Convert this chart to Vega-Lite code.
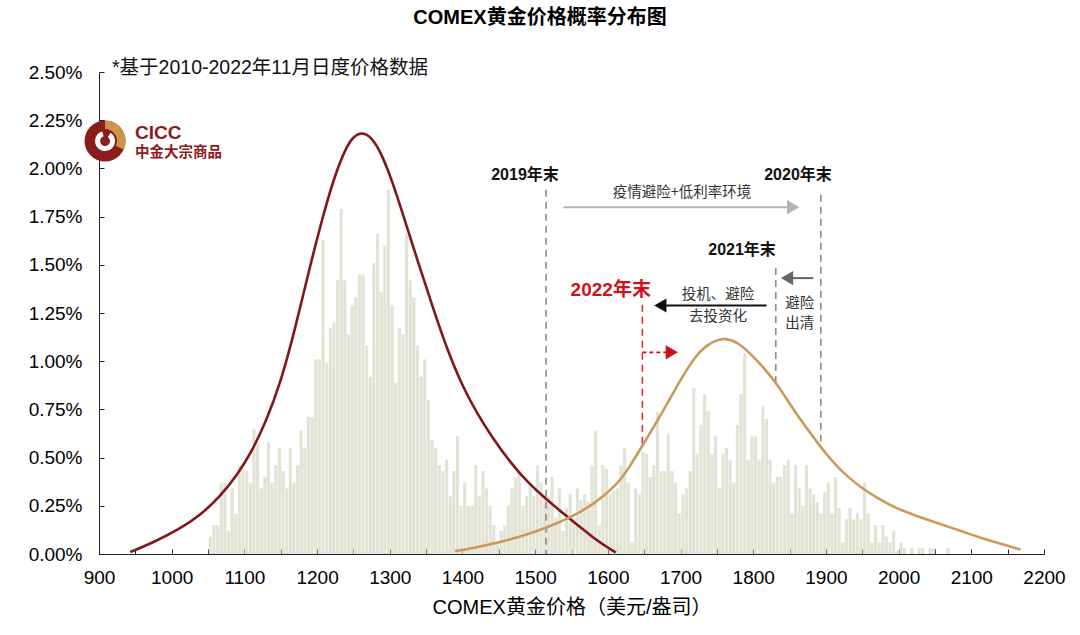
{
  "$schema": "https://vega.github.io/schema/vega-lite/v6.json",
  "width": 945,
  "height": 482,
  "autosize": "none",
  "padding": {"left": 99, "top": 72, "right": 36, "bottom": 81},
  "background": "white",
  "config": {
    "view": {"stroke": null},
    "font": "Liberation Sans, Noto Sans CJK SC",
    "axis": {"grid": false, "domainColor": "#222", "tickColor": "#222", "labelColor": "#000", "titleColor": "#000", "labelFont": "Liberation Sans, Noto Sans CJK SC", "titleFont": "Liberation Sans, Noto Sans CJK SC"}
  },
  "datasets": {
    "hist": [
      {"p":1050,"v":0.09},{"p":1055,"v":0.15},{"p":1060,"v":0.15},{"p":1065,"v":0.37},{"p":1070,"v":0.37},{"p":1075,"v":0.12},{"p":1080,"v":0.34},{"p":1085,"v":0.21},{"p":1090,"v":0.46},{"p":1095,"v":0.44},
      {"p":1100,"v":0.43},{"p":1105,"v":0.37},{"p":1110,"v":0.65},{"p":1115,"v":0.58},{"p":1120,"v":0.34},{"p":1125,"v":0.40},{"p":1130,"v":0.58},{"p":1135,"v":0.37},{"p":1140,"v":0.46},{"p":1145,"v":0.55},
      {"p":1150,"v":0.43},{"p":1155,"v":0.34},{"p":1160,"v":0.55},{"p":1165,"v":0.37},{"p":1170,"v":0.46},{"p":1175,"v":0.64},{"p":1180,"v":0.55},{"p":1185,"v":0.71},{"p":1190,"v":0.71},{"p":1195,"v":1.01},
      {"p":1200,"v":1.01},{"p":1205,"v":1.63},{"p":1210,"v":0.99},{"p":1215,"v":1.17},{"p":1220,"v":1.20},{"p":1225,"v":1.42},{"p":1230,"v":1.79},{"p":1235,"v":1.42},{"p":1240,"v":1.14},{"p":1245,"v":1.29},
      {"p":1250,"v":1.33},{"p":1255,"v":1.45},{"p":1260,"v":1.45},{"p":1265,"v":1.08},{"p":1270,"v":0.92},{"p":1275,"v":1.51},{"p":1280,"v":1.66},{"p":1285,"v":1.36},{"p":1290,"v":1.60},{"p":1295,"v":1.89},
      {"p":1300,"v":1.29},{"p":1305,"v":0.89},{"p":1310,"v":1.17},{"p":1315,"v":1.14},{"p":1320,"v":1.66},{"p":1325,"v":1.42},{"p":1330,"v":1.33},{"p":1335,"v":1.08},{"p":1340,"v":0.92},{"p":1345,"v":1.01},
      {"p":1350,"v":0.80},{"p":1355,"v":0.59},{"p":1360,"v":0.55},{"p":1365,"v":0.46},{"p":1370,"v":0.43},{"p":1375,"v":0.49},{"p":1380,"v":0.30},{"p":1385,"v":0.43},{"p":1390,"v":0.61},{"p":1395,"v":0.25},
      {"p":1400,"v":0.37},{"p":1405,"v":0.25},{"p":1410,"v":0.25},{"p":1415,"v":0.46},{"p":1420,"v":0.30},{"p":1425,"v":0.43},{"p":1430,"v":0.34},{"p":1435,"v":0.25},{"p":1440,"v":0.15},{"p":1445,"v":0.06},
      {"p":1450,"v":0.12},{"p":1455,"v":0.15},{"p":1460,"v":0.25},{"p":1465,"v":0.34},{"p":1470,"v":0.40},{"p":1475,"v":0.43},{"p":1480,"v":0.25},{"p":1485,"v":0.30},{"p":1490,"v":0.37},{"p":1495,"v":0.30},
      {"p":1500,"v":0.46},{"p":1505,"v":0.37},{"p":1510,"v":0.30},{"p":1515,"v":0.30},{"p":1520,"v":0.40},{"p":1525,"v":0.19},{"p":1530,"v":0.34},{"p":1535,"v":0.12},{"p":1540,"v":0.24},{"p":1545,"v":0.31},
      {"p":1550,"v":0.19},{"p":1555,"v":0.34},{"p":1560,"v":0.28},{"p":1565,"v":0.31},{"p":1570,"v":0.27},{"p":1575,"v":0.46},{"p":1580,"v":0.64},{"p":1585,"v":0.15},{"p":1590,"v":0.46},{"p":1595,"v":0.44},
      {"p":1600,"v":0.31},{"p":1605,"v":0.33},{"p":1610,"v":0.34},{"p":1615,"v":0.46},{"p":1620,"v":0.55},{"p":1625,"v":0.37},{"p":1630,"v":0.06},{"p":1635,"v":0.34},{"p":1640,"v":0.31},{"p":1645,"v":0.53},
      {"p":1650,"v":0.52},{"p":1655,"v":0.40},{"p":1660,"v":0.46},{"p":1665,"v":0.74},{"p":1670,"v":0.43},{"p":1675,"v":0.43},{"p":1680,"v":0.62},{"p":1685,"v":0.43},{"p":1690,"v":0.37},{"p":1695,"v":0.21},
      {"p":1700,"v":0.31},{"p":1705,"v":0.34},{"p":1710,"v":0.43},{"p":1715,"v":0.86},{"p":1720,"v":0.52},{"p":1725,"v":0.67},{"p":1730,"v":0.83},{"p":1735,"v":0.74},{"p":1740,"v":0.52},{"p":1745,"v":0.61},
      {"p":1750,"v":0.34},{"p":1755,"v":0.52},{"p":1760,"v":0.55},{"p":1765,"v":0.49},{"p":1770,"v":0.37},{"p":1775,"v":0.67},{"p":1780,"v":0.83},{"p":1785,"v":1.04},{"p":1790,"v":0.49},{"p":1795,"v":0.61},
      {"p":1800,"v":0.61},{"p":1805,"v":0.49},{"p":1810,"v":0.77},{"p":1815,"v":0.70},{"p":1820,"v":0.49},{"p":1825,"v":0.37},{"p":1830,"v":0.40},{"p":1835,"v":0.40},{"p":1840,"v":0.46},{"p":1845,"v":0.49},
      {"p":1850,"v":0.21},{"p":1855,"v":0.46},{"p":1860,"v":0.34},{"p":1865,"v":0.25},{"p":1870,"v":0.46},{"p":1875,"v":0.34},{"p":1880,"v":0.31},{"p":1885,"v":0.27},{"p":1890,"v":0.21},{"p":1895,"v":0.32},
      {"p":1900,"v":0.37},{"p":1905,"v":0.21},{"p":1910,"v":0.40},{"p":1915,"v":0.24},{"p":1920,"v":0.06},{"p":1925,"v":0.18},{"p":1930,"v":0.24},{"p":1935,"v":0.18},{"p":1940,"v":0.21},{"p":1945,"v":0.18},
      {"p":1950,"v":0.37},{"p":1955,"v":0.21},{"p":1960,"v":0.06},{"p":1965,"v":0.15},{"p":1970,"v":0.06},{"p":1975,"v":0.15},{"p":1980,"v":0.09},{"p":1985,"v":0.06},{"p":1990,"v":0.12},{"p":1995,"v":0.02},
      {"p":2000,"v":0.06},{"p":2005,"v":0.03},{"p":2015,"v":0.03},{"p":2025,"v":0.03},{"p":2030,"v":0.03},{"p":2040,"v":0.03},{"p":2045,"v":0.03},{"p":2065,"v":0.03}
    ],
    "red": [
      {"p":943,"v":0.01},{"p":975,"v":0.06},{"p":1011,"v":0.13},{"p":1039,"v":0.20},{"p":1067,"v":0.30},{"p":1090,"v":0.41},{"p":1110,"v":0.53},{"p":1130,"v":0.69},{"p":1150,"v":0.89},{"p":1170,"v":1.17},
      {"p":1190,"v":1.49},{"p":1210,"v":1.78},{"p":1225,"v":1.97},{"p":1240,"v":2.11},{"p":1250,"v":2.165},{"p":1262,"v":2.19},{"p":1275,"v":2.16},{"p":1287,"v":2.09},{"p":1303,"v":1.94},
      {"p":1320,"v":1.74},{"p":1340,"v":1.50},{"p":1360,"v":1.27},{"p":1380,"v":1.05},{"p":1400,"v":0.87},{"p":1420,"v":0.73},{"p":1440,"v":0.61},{"p":1466,"v":0.474},{"p":1490,"v":0.37},{"p":1516,"v":0.282},
      {"p":1535,"v":0.222},{"p":1549,"v":0.179},{"p":1565,"v":0.13},{"p":1580,"v":0.085},{"p":1595,"v":0.045},{"p":1611,"v":0.008}
    ],
    "gold": [
      {"p":1390,"v":0.015},{"p":1420,"v":0.035},{"p":1448,"v":0.058},{"p":1480,"v":0.09},{"p":1516,"v":0.136},{"p":1549,"v":0.19},{"p":1581,"v":0.258},{"p":1613,"v":0.36},{"p":1630,"v":0.452},{"p":1647,"v":0.559},
      {"p":1673,"v":0.72},{"p":1700,"v":0.905},{"p":1720,"v":1.025},{"p":1735,"v":1.08},{"p":1748,"v":1.108},{"p":1762,"v":1.12},{"p":1778,"v":1.10},{"p":1799,"v":1.03},{"p":1817,"v":0.955},{"p":1835,"v":0.87},
      {"p":1850,"v":0.78},{"p":1868,"v":0.68},{"p":1886,"v":0.59},{"p":1900,"v":0.52},{"p":1914,"v":0.46},{"p":1930,"v":0.40},{"p":1950,"v":0.34},{"p":1975,"v":0.28},{"p":2000,"v":0.232},{"p":2025,"v":0.197},
      {"p":2050,"v":0.165},{"p":2075,"v":0.133},{"p":2100,"v":0.10},{"p":2125,"v":0.07},{"p":2150,"v":0.042},{"p":2168,"v":0.023}
    ],
    "vgray": [
      {"p":1515,"v":1.889,"v2":0},
      {"p":1893,"v":1.863,"v2":0.55},
      {"p":1831,"v":1.484,"v2":0.89}
    ],
    "vred": [
      {"p":1647.5,"v":1.293,"v2":0.56}
    ],
    "shafts": [
      {"k":"a","p":1538.7,"p2":1848,"v":1.799},
      {"k":"b","p":1882.6,"p2":1850,"v":1.431},
      {"k":"c","p":1818.5,"p2":1678,"v":1.289}
    ],
    "heads": [
      {"k":"a","p":1855,"v":1.799},
      {"k":"b","p":1846.5,"v":1.431},
      {"k":"c","p":1672.2,"v":1.289},
      {"k":"d","p":1688,"v":1.046}
    ],
    "redshaft": [
      {"p":1647.5,"p2":1681,"v":1.046}
    ],
    "yearlabels": [
      {"p":1486,"v":1.966,"t":"2019年末"},
      {"p":1861.6,"v":1.966,"t":"2020年末"},
      {"p":1784.6,"v":1.578,"t":"2021年末"}
    ],
    "notes": [
      {"p":1702,"v":1.873,"t":"疫情避险+低利率环境"},
      {"p":1751.5,"v":1.345,"t":"投机、避险"},
      {"p":1751.5,"v":1.228,"t":"去投资化"},
      {"p":1864,"v":1.298,"t":"避险"},
      {"p":1864,"v":1.195,"t":"出清"}
    ],
    "red2022": [
      {"p":1604,"v":1.37,"t":"2022年末"}
    ],
    "title": [
      {"p":1506.7,"v":2.78,"t":"COMEX黄金价格概率分布图"}
    ],
    "subtitle": [
      {"p":917.9,"v":2.521,"t":"*基于2010-2022年11月日度价格数据"}
    ],
    "logo": [
      {"p":908.3,"v":2.142}
    ],
    "logotext": [
      {"p":949.5,"v":2.184,"t":"CICC","k":"big"},
      {"p":949.5,"v":2.08,"t":"中金大宗商品","k":"small"}
    ]
  },
  "layer": [
    {
      "data": {"name": "hist"},
      "mark": {"type": "bar", "color": "#e3e3d5", "binSpacing": 0.5},
      "encoding": {
        "x": {"field": "p", "type": "quantitative", "bin": {"binned": true, "step": 5},
          "scale": {"domain": [900, 2200], "nice": false, "zero": false},
          "axis": {"title": "COMEX黄金价格（美元/盎司）", "values": [900,950,1000,1050,1100,1150,1200,1250,1300,1350,1400,1450,1500,1550,1600,1650,1700,1750,1800,1850,1900,1950,2000,2050,2100,2150,2200],
            "labelExpr": "datum.value % 100 === 0 ? datum.value : ''", "tickSize": -5, "labelPadding": 19, "labelFontSize": 19, "titleFontSize": 20, "titleFontWeight": "normal", "titlePadding": 10, "labelFlush": false, "labelOverlap": false}},
        "y": {"field": "v", "type": "quantitative",
          "scale": {"domain": [0, 2.5], "nice": false},
          "axis": {"title": null, "values": [0,0.25,0.5,0.75,1,1.25,1.5,1.75,2,2.25,2.5], "labelExpr": "format(datum.value, '.2f') + '%'", "tickSize": -5, "labelPadding": 22, "labelFontSize": 19}}
      }
    },
    {
      "data": {"name": "vgray"},
      "mark": {"type": "rule", "color": "#8a8a8a", "strokeDash": [7, 5], "strokeWidth": 1.6},
      "encoding": {"x": {"field": "p", "type": "quantitative"}, "y": {"field": "v", "type": "quantitative"}, "y2": {"field": "v2"}}
    },
    {
      "data": {"name": "vred"},
      "mark": {"type": "rule", "color": "#e0303a", "strokeDash": [7, 5], "strokeWidth": 1.6},
      "encoding": {"x": {"field": "p", "type": "quantitative"}, "y": {"field": "v", "type": "quantitative"}, "y2": {"field": "v2"}}
    },
    {
      "data": {"name": "red"},
      "mark": {"type": "line", "color": "#80171b", "strokeWidth": 2.6, "interpolate": "basis"},
      "encoding": {"x": {"field": "p", "type": "quantitative"}, "y": {"field": "v", "type": "quantitative"}}
    },
    {
      "data": {"name": "gold"},
      "mark": {"type": "line", "color": "#c99a5b", "strokeWidth": 2.6, "interpolate": "basis"},
      "encoding": {"x": {"field": "p", "type": "quantitative"}, "y": {"field": "v", "type": "quantitative"}}
    },
    {
      "data": {"name": "shafts"},
      "mark": {"type": "rule", "strokeWidth": 2},
      "encoding": {"x": {"field": "p", "type": "quantitative"}, "x2": {"field": "p2"}, "y": {"field": "v", "type": "quantitative"},
        "color": {"field": "k", "type": "nominal", "scale": {"domain": ["a","b","c","d"], "range": ["#b4b4b4","#666666","#111111","#d0101a"]}, "legend": null}}
    },
    {
      "data": {"name": "redshaft"},
      "mark": {"type": "rule", "strokeWidth": 1.6, "color": "#d0101a", "strokeDash": [4, 3]},
      "encoding": {"x": {"field": "p", "type": "quantitative"}, "x2": {"field": "p2"}, "y": {"field": "v", "type": "quantitative"}}
    },
    {
      "data": {"name": "heads"},
      "mark": {"type": "point", "filled": true, "opacity": 1, "size": 200},
      "encoding": {"x": {"field": "p", "type": "quantitative"}, "y": {"field": "v", "type": "quantitative"},
        "color": {"field": "k", "type": "nominal", "scale": {"domain": ["a","b","c","d"], "range": ["#b4b4b4","#666666","#111111","#d0101a"]}, "legend": null},
        "shape": {"field": "k", "type": "nominal", "scale": {"domain": ["a","b","c","d"], "range": ["triangle-right","triangle-left","triangle-left","triangle-right"]}, "legend": null}}
    },
    {
      "data": {"name": "yearlabels"},
      "mark": {"type": "text", "fontSize": 16, "fontWeight": "bold", "color": "#111", "align": "center", "baseline": "middle"},
      "encoding": {"x": {"field": "p", "type": "quantitative"}, "y": {"field": "v", "type": "quantitative"}, "text": {"field": "t"}}
    },
    {
      "data": {"name": "notes"},
      "mark": {"type": "text", "fontSize": 14.5, "color": "#333", "align": "center", "baseline": "middle", "font": "Noto Sans CJK SC"},
      "encoding": {"x": {"field": "p", "type": "quantitative"}, "y": {"field": "v", "type": "quantitative"}, "text": {"field": "t"}}
    },
    {
      "data": {"name": "red2022"},
      "mark": {"type": "text", "fontSize": 19, "fontWeight": "bold", "color": "#d0101a", "align": "center", "baseline": "middle"},
      "encoding": {"x": {"field": "p", "type": "quantitative"}, "y": {"field": "v", "type": "quantitative"}, "text": {"field": "t"}}
    },
    {
      "data": {"name": "title"},
      "mark": {"type": "text", "fontSize": 20, "fontWeight": "bold", "color": "#000", "align": "center", "baseline": "middle"},
      "encoding": {"x": {"field": "p", "type": "quantitative"}, "y": {"field": "v", "type": "quantitative"}, "text": {"field": "t"}}
    },
    {
      "data": {"name": "subtitle"},
      "mark": {"type": "text", "fontSize": 19.5, "color": "#111", "align": "left", "baseline": "middle"},
      "encoding": {"x": {"field": "p", "type": "quantitative"}, "y": {"field": "v", "type": "quantitative"}, "text": {"field": "t"}}
    },
    {
      "data": {"name": "logo"},
      "mark": {"type": "arc", "theta": 0, "theta2": 6.2832, "radius": 20.5, "radius2": 0, "color": "#8a1c1c"},
      "encoding": {"x": {"field": "p", "type": "quantitative"}, "y": {"field": "v", "type": "quantitative"}}
    },
    {
      "data": {"name": "logo"},
      "mark": {"type": "arc", "theta": 0, "theta2": 2.0, "radius": 20.5, "radius2": 12, "color": "#c8954a"},
      "encoding": {"x": {"field": "p", "type": "quantitative"}, "y": {"field": "v", "type": "quantitative"}}
    },
    {
      "data": {"name": "logo"},
      "mark": {"type": "arc", "theta": 0.6, "theta2": 6.0, "radius": 10, "radius2": 5, "color": "white"},
      "encoding": {"x": {"field": "p", "type": "quantitative"}, "y": {"field": "v", "type": "quantitative"}}
    },
    {
      "data": {"name": "logotext"},
      "mark": {"type": "text", "fontWeight": "bold", "color": "#8a1c1c", "align": "left", "baseline": "middle"},
      "encoding": {"x": {"field": "p", "type": "quantitative"}, "y": {"field": "v", "type": "quantitative"}, "text": {"field": "t"},
        "size": {"field": "k", "type": "nominal", "scale": {"domain": ["big","small"], "range": [19, 14.5]}, "legend": null}}
    }
  ]
}
